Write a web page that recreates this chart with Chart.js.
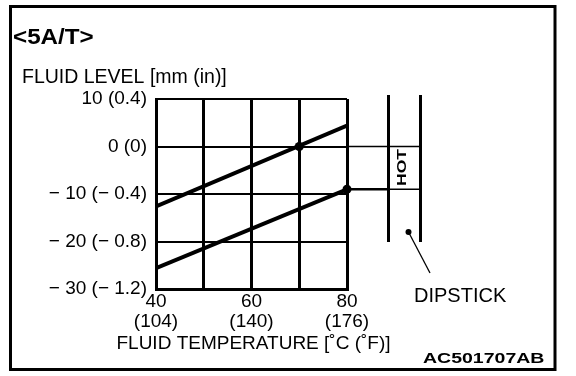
<!DOCTYPE html>
<html>
<head>
<meta charset="utf-8">
<script src="https://cdn.jsdelivr.net/npm/chart.js@4"></script>
<style>
  html, body { margin: 0; padding: 0; background: #fff; }
  #wrap { position: relative; width: 576px; height: 376px; }
</style>
</head>
<body>
<div id="wrap"><canvas id="chart"></canvas></div>
<script>
// ---- data ----
const tempC = [40, 80];
const levelUpper = [-12.6, 4.4];
const levelLower = [-25.6, -9.0];
const markTemp = [70, 80];
const markLevel = [0, -9];

const yTickValues = [10, 0, -10, -20, -30];
const yTickLabels = ['10 (0.4)', '0 (0)', '\u2212 10 (\u2212 0.4)', '\u2212 20 (\u2212 0.8)', '\u2212 30 (\u2212 1.2)'];
const xTickValues = [40, 60, 80];
const xTickLabelsC = ['40', '60', '80'];
const xTickLabelsF = ['(104)', '(140)', '(176)'];
const xTitle = 'FLUID TEMPERATURE [\u02DAC (\u02DAF)]';
const yTitle = 'FLUID LEVEL [mm (in)]';

const FONT = "'Liberation Sans', Arial, sans-serif";

// frame, captions and the dipstick sketch
const decorations = {
  id: 'decorations',
  beforeDraw(chart) {
    const ctx = chart.ctx;
    ctx.save();
    ctx.fillStyle = '#fff';
    ctx.fillRect(0, 0, chart.width, chart.height);
    ctx.strokeStyle = '#000';
    ctx.lineWidth = 3;
    ctx.strokeRect(10.5, 6.5, 544.5, 363);
    ctx.restore();
  },
  afterDatasetsDraw(chart) {
    const ctx = chart.ctx;
    const xs = chart.scales.x, ys = chart.scales.y;
    const xEnd = xs.getPixelForValue(tempC[tempC.length - 1]);
    const stickL = 388.5, stickR = 420.5;

    ctx.save();
    ctx.strokeStyle = '#000';
    ctx.fillStyle = '#000';

    // level lines carried over to the dipstick
    ctx.lineWidth = 1.5;
    ctx.beginPath();
    ctx.moveTo(xEnd, ys.getPixelForValue(markLevel[0]));
    ctx.lineTo(stickR, ys.getPixelForValue(markLevel[0]));
    ctx.stroke();
    const yHot = ys.getPixelForValue(markLevel[1]);
    ctx.lineWidth = 2.5;
    ctx.beginPath();
    ctx.moveTo(xEnd, yHot);
    ctx.lineTo(stickL, yHot);
    ctx.stroke();
    ctx.lineWidth = 1.5;
    ctx.beginPath();
    ctx.moveTo(stickL, yHot);
    ctx.lineTo(stickR, yHot);
    ctx.stroke();

    // dipstick
    ctx.lineWidth = 3;
    ctx.beginPath();
    ctx.moveTo(stickL, 95); ctx.lineTo(stickL, 242);
    ctx.moveTo(stickR, 95); ctx.lineTo(stickR, 242);
    ctx.stroke();

    ctx.beginPath();
    ctx.arc(408.5, 232, 3, 0, Math.PI * 2);
    ctx.fill();
    ctx.lineWidth = 1.3;
    ctx.beginPath();
    ctx.moveTo(408.5, 232);
    ctx.lineTo(430, 273);
    ctx.stroke();

    // HOT, rotated
    ctx.save();
    ctx.translate(402, 167.5);
    ctx.rotate(-Math.PI / 2);
    ctx.scale(1.35, 1);
    ctx.font = 'bold 13px ' + FONT;
    ctx.textAlign = 'center';
    ctx.textBaseline = 'middle';
    ctx.fillText('HOT', 0, 0);
    ctx.restore();

    // texts
    ctx.textBaseline = 'alphabetic';
    ctx.textAlign = 'left';
    ctx.font = '20px ' + FONT;
    ctx.fillText('DIPSTICK', 414, 302);

    ctx.font = '19.5px ' + FONT;
    ctx.fillText(yTitle, 22, 83);

    ctx.textAlign = 'center';
    ctx.font = '19px ' + FONT;
    ctx.fillText(xTitle, (xs.left + xs.right) / 2 + 2, 349);
    ctx.textAlign = 'left';

    ctx.save();
    ctx.translate(13, 44);
    ctx.scale(1.1, 1);
    ctx.font = 'bold 22px ' + FONT;
    ctx.fillText('<5A/T>', 0, 0);
    ctx.restore();

    ctx.save();
    ctx.translate(423, 363);
    ctx.scale(1.3, 1);
    ctx.font = 'bold 15px ' + FONT;
    ctx.fillText('AC501707AB', 0, 0);
    ctx.restore();

    ctx.restore();
  }
};

new Chart(document.getElementById('chart'), {
  type: 'line',
  data: {
    datasets: [
      {
        data: tempC.map((t, i) => ({ x: t, y: levelUpper[i] })),
        borderColor: '#000',
        borderWidth: 4,
        pointRadius: 0
      },
      {
        data: tempC.map((t, i) => ({ x: t, y: levelLower[i] })),
        borderColor: '#000',
        borderWidth: 4,
        pointRadius: 0
      },
      {
        data: markTemp.map((t, i) => ({ x: t, y: markLevel[i] })),
        showLine: false,
        clip: false,
        pointRadius: 4.5,
        pointBackgroundColor: '#000',
        pointBorderColor: '#000',
        pointBorderWidth: 0
      }
    ]
  },
  options: {
    responsive: true,
    maintainAspectRatio: false,
    animation: false,
    events: [],
    layout: { padding: { top: 99, right: 229, bottom: 23, left: 0 } },
    plugins: { legend: { display: false }, tooltip: { enabled: false } },
    scales: {
      x: {
        type: 'linear',
        min: 40,
        max: 80,
        afterFit(scale) { scale.height = 64; },
        border: { display: true, color: '#000', width: 3 },
        grid: { color: '#000', lineWidth: 3, drawTicks: false },
        ticks: {
          stepSize: 10,
          autoSkip: false,
          maxRotation: 0,
          padding: 2.5,
          color: '#000',
          font: { family: FONT, size: 19, lineHeight: 1.05 },
          callback(value) {
            const i = xTickValues.indexOf(value);
            return i < 0 ? '' : [xTickLabelsC[i], xTickLabelsF[i]];
          }
        }
      },
      y: {
        type: 'linear',
        min: -30,
        max: 10,
        afterFit(scale) { scale.width = 156; },
        border: { display: true, color: '#000', width: 3 },
        grid: { color: '#000', lineWidth: 2, drawTicks: false },
        ticks: {
          stepSize: 10,
          padding: 9,
          color: '#000',
          font: { family: FONT, size: 19 },
          callback(value) {
            const i = yTickValues.indexOf(value);
            return i < 0 ? '' : yTickLabels[i];
          }
        }
      }
    }
  },
  plugins: [decorations]
});
</script>
</body>
</html>
